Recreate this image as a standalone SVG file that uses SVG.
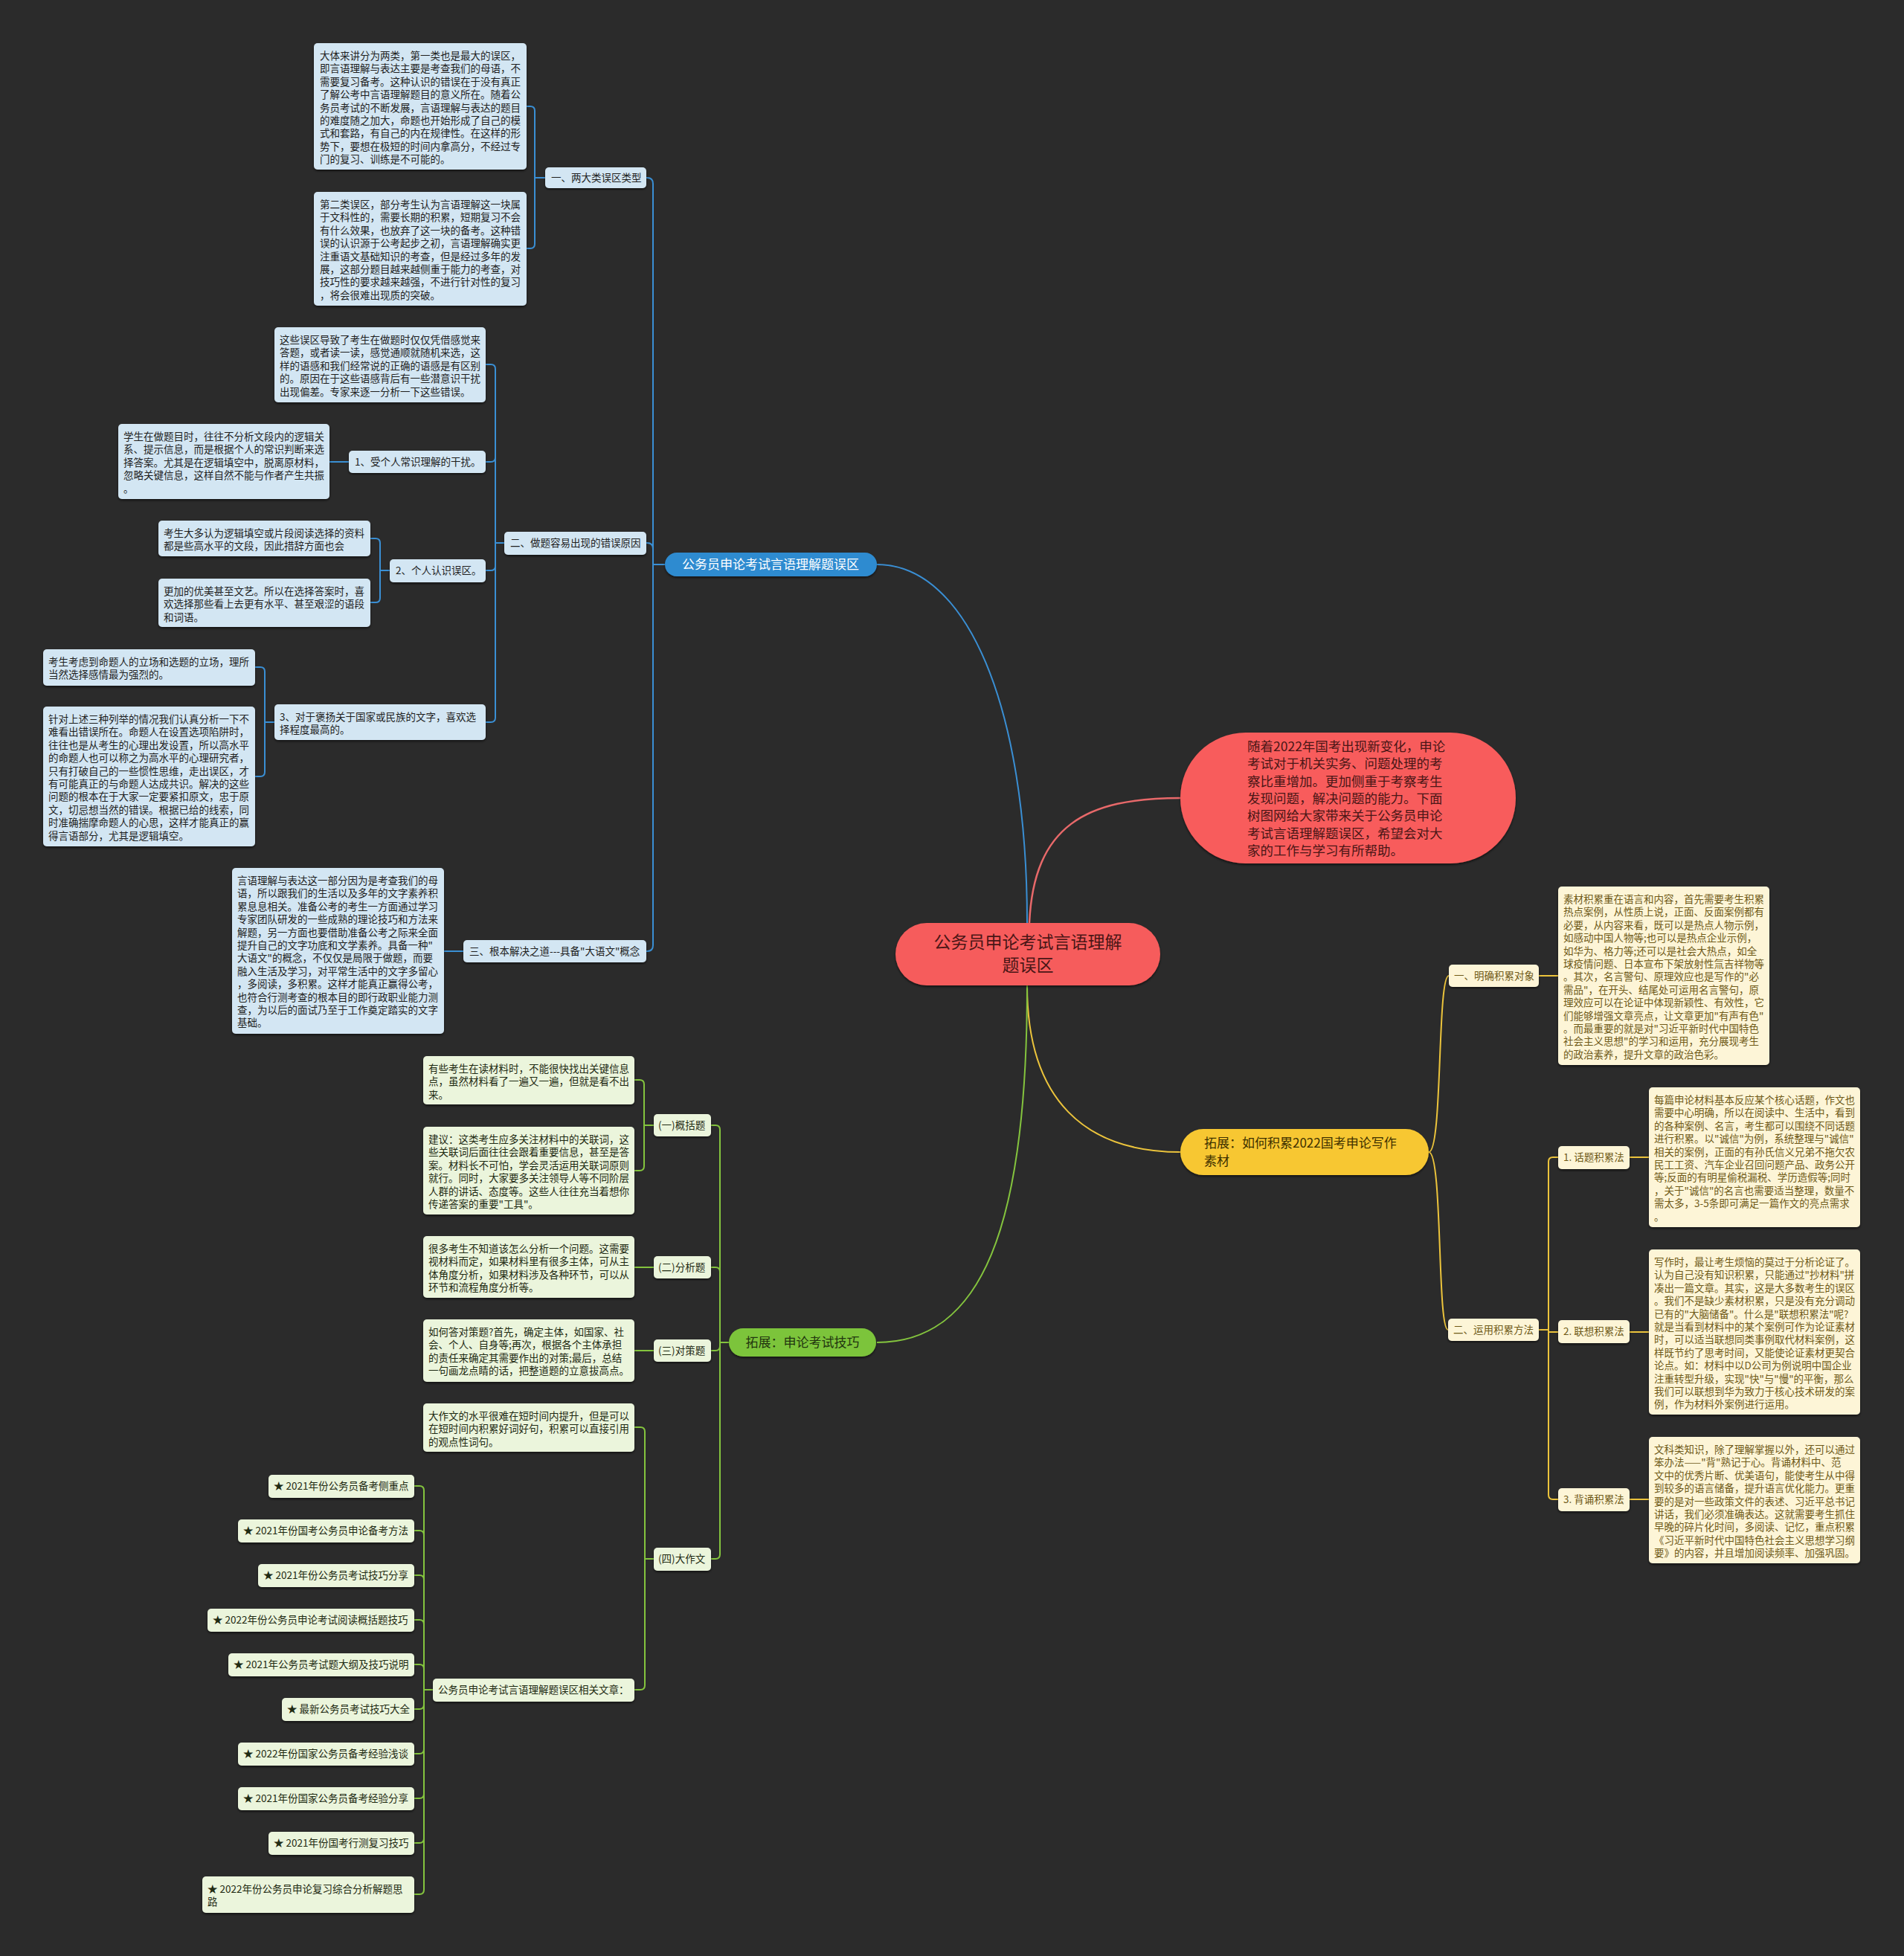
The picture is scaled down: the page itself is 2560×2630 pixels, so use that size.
<svg xmlns="http://www.w3.org/2000/svg" width="2560" height="2630" viewBox="0 0 2560 2630">
<defs>
<filter id="sh" x="-5%" y="-5%" width="110%" height="115%"><feDropShadow dx="0" dy="2" stdDeviation="1.5" flood-color="#000" flood-opacity="0.55"/></filter>
<style>
text{font-family:"Noto Sans CJK SC","Noto Sans",sans-serif;font-size:13.5px}
.bb{fill:#d3e6f3;filter:url(#sh)}
.yb{fill:#fdf5d7;filter:url(#sh)}
.gb{fill:#ebf5dc;filter:url(#sh)}
.bt{fill:#1e1e1e}
.yt{fill:#6f5a18}
.gt{fill:#1e2a12}
.cb{fill:none;stroke:#3a8fd4;stroke-width:2}
.cy{fill:none;stroke:#ecc43c;stroke-width:2}
.cg{fill:none;stroke:#84c43e;stroke-width:2}
.cp{fill:none;stroke:#e8696a;stroke-width:2.5}
.main{font-size:17px}
</style>
</defs>
<rect width="2560" height="2630" fill="#2b2b2b"/>

<g id="connectors">
<!-- root to main branches -->
<path class="cb" stroke-width="2.5" d="M1381 1241 C1381 950 1300 759 1179 759"/>
<path class="cp" d="M1384 1241 C1390 1110 1460 1073 1587 1073"/>
<path class="cy" stroke-width="2.5" d="M1381 1325 C1381 1480 1460 1549 1587 1549"/>
<path class="cg" stroke-width="2.5" d="M1381 1325 C1381 1650 1320 1805 1179 1805"/>
<!-- blue main -> children -->
<path class="cb" d="M894 759 H878 V247 Q878 239 870 239 H869"/>
<path class="cb" d="M894 759 H878 V738 Q878 730 870 730 H869"/>
<path class="cb" d="M894 759 H878 V1271 Q878 1279 870 1279 H869"/>
<!-- 一 -->
<path class="cb" d="M733 239 H719 V149 Q719 143 713 143 H708"/>
<path class="cb" d="M733 239 H719 V328 Q719 334 713 334 H708"/>
<!-- 二 -->
<path class="cb" d="M678 730 H666 V496 Q666 490 660 490 H653"/>
<path class="cb" d="M678 730 H666 V615 Q666 621 660 621 H653"/>
<path class="cb" d="M678 730 H666 V761 Q666 767 660 767 H653"/>
<path class="cb" d="M678 730 H666 V965 Q666 971 660 971 H653"/>
<path class="cb" d="M469 621 H443"/>
<path class="cb" d="M524 767 H511 V730 Q511 724 505 724 H498"/>
<path class="cb" d="M524 767 H511 V804 Q511 810 505 810 H498"/>
<path class="cb" d="M369 971 H356 V903 Q356 897 350 897 H343"/>
<path class="cb" d="M369 971 H356 V1038 Q356 1044 350 1044 H343"/>
<path class="cb" d="M623 1279 H597"/>
<!-- yellow -->
<path class="cy" d="M1921 1549 C1940 1549 1932 1312 1948 1312"/>
<path class="cy" d="M1921 1549 C1940 1549 1932 1788 1947 1788"/>
<path class="cy" d="M2069 1312 H2095"/>
<path class="cy" d="M2069 1788 H2082 V1562 Q2082 1556 2088 1556 H2095"/>
<path class="cy" d="M2069 1788 H2082 V1791 H2095"/>
<path class="cy" d="M2069 1788 H2082 V2010 Q2082 2016 2088 2016 H2095"/>
<path class="cy" d="M2191 1556 H2217"/>
<path class="cy" d="M2191 1791 H2217"/>
<path class="cy" d="M2191 2016 H2217"/>
<!-- green -->
<path class="cg" d="M980 1805 H968 V1519 Q968 1513 962 1513 H956"/>
<path class="cg" d="M980 1805 H968 V1710 Q968 1704 962 1704 H956"/>
<path class="cg" d="M980 1805 H968 V1810 Q968 1816 962 1816 H956"/>
<path class="cg" d="M980 1805 H968 V2090 Q968 2096 962 2096 H956"/>
<path class="cg" d="M879 1513 H866 V1458 Q866 1452 860 1452 H853"/>
<path class="cg" d="M879 1513 H866 V1568 Q866 1574 860 1574 H853"/>
<path class="cg" d="M879 1704 H853"/>
<path class="cg" d="M879 1816 H853"/>
<path class="cg" d="M879 2096 H867 V1925 Q867 1919 861 1919 H853"/>
<path class="cg" d="M879 2096 H867 V2266 Q867 2272 861 2272 H853"/>
<path class="cg" d="M582 2272 H570 V2004 Q570 1998 564 1998 H557"/>
<path class="cg" d="M582 2272 H570 V2064 Q570 2058 564 2058 H557"/>
<path class="cg" d="M582 2272 H570 V2124 Q570 2118 564 2118 H557"/>
<path class="cg" d="M582 2272 H570 V2184 Q570 2178 564 2178 H557"/>
<path class="cg" d="M582 2272 H570 V2244 Q570 2238 564 2238 H557"/>
<path class="cg" d="M582 2272 H570 V2292 Q570 2298 564 2298 H557"/>
<path class="cg" d="M582 2272 H570 V2352 Q570 2358 564 2358 H557"/>
<path class="cg" d="M582 2272 H570 V2412 Q570 2418 564 2418 H557"/>
<path class="cg" d="M582 2272 H570 V2472 Q570 2478 564 2478 H557"/>
<path class="cg" d="M582 2272 H570 V2541 Q570 2547 564 2547 H557"/>
</g>

<!-- root -->
<g id="root">
<rect x="1204" y="1241" width="356" height="84" rx="42" fill="#f65c5c" filter="url(#sh)"/>
<text x="1382" y="1275" text-anchor="middle" style="font-size:23px" fill="#4a1616">公务员申论考试言语理解</text>
<text x="1382" y="1306" text-anchor="middle" style="font-size:23px" fill="#4a1616">题误区</text>
</g>

<g id="intro">
<rect x="1587" y="985" width="451" height="176" rx="88" fill="#f85c5c" filter="url(#sh)"/>
<text style="font-size:17.5px" fill="#4a1616"><tspan x="1677" y="1010">随着2022年国考出现新变化，申论</tspan><tspan x="1677" dy="23.3">考试对于机关实务、问题处理的考</tspan><tspan x="1677" dy="23.3">察比重增加。更加侧重于考察考生</tspan><tspan x="1677" dy="23.3">发现问题，解决问题的能力。下面</tspan><tspan x="1677" dy="23.3">树图网给大家带来关于公务员申论</tspan><tspan x="1677" dy="23.3">考试言语理解题误区，希望会对大</tspan><tspan x="1677" dy="23.3">家的工作与学习有所帮助。</tspan></text>
</g>

<!-- BLUE BRANCH -->
<g id="blue-main">
<rect x="894" y="743" width="285" height="32" rx="16" fill="#2f8bd0" filter="url(#sh)"/>
<text x="1036" y="765" text-anchor="middle" class="main" fill="#ffffff">公务员申论考试言语理解题误区</text>
</g>
<g id="b-1">
<rect class="bb" x="733" y="225" width="136" height="28" rx="5"/>
<text class="bt" x="741" y="244">一、两大类误区类型</text>
</g>
<g id="b-1a">
<rect class="bb" x="422" y="58" width="286" height="170" rx="5"/>
<text class="bt"><tspan x="430" y="80">大体来讲分为两类，第一类也是最大的误区，</tspan><tspan x="430" dy="17.4">即言语理解与表达主要是考查我们的母语，不</tspan><tspan x="430" dy="17.4">需要复习备考。这种认识的错误在于没有真正</tspan><tspan x="430" dy="17.4">了解公考中言语理解题目的意义所在。随着公</tspan><tspan x="430" dy="17.4">务员考试的不断发展，言语理解与表达的题目</tspan><tspan x="430" dy="17.4">的难度随之加大，命题也开始形成了自己的模</tspan><tspan x="430" dy="17.4">式和套路，有自己的内在规律性。在这样的形</tspan><tspan x="430" dy="17.4">势下，要想在极短的时间内拿高分，不经过专</tspan><tspan x="430" dy="17.4">门的复习、训练是不可能的。</tspan></text>
</g>
<g id="b-1b">
<rect class="bb" x="422" y="258" width="286" height="153" rx="5"/>
<text class="bt"><tspan x="430" y="280">第二类误区，部分考生认为言语理解这一块属</tspan><tspan x="430" dy="17.4">于文科性的，需要长期的积累，短期复习不会</tspan><tspan x="430" dy="17.4">有什么效果，也放弃了这一块的备考。这种错</tspan><tspan x="430" dy="17.4">误的认识源于公考起步之初，言语理解确实更</tspan><tspan x="430" dy="17.4">注重语文基础知识的考查，但是经过多年的发</tspan><tspan x="430" dy="17.4">展，这部分题目越来越侧重于能力的考查，对</tspan><tspan x="430" dy="17.4">技巧性的要求越来越强，不进行针对性的复习</tspan><tspan x="430" dy="17.4">，将会很难出现质的突破。</tspan></text>
</g>
<g id="b-2">
<rect class="bb" x="678" y="715" width="191" height="31" rx="5"/>
<text class="bt" x="686" y="735">二、做题容易出现的错误原因</text>
</g>
<g id="b-2a">
<rect class="bb" x="369" y="440" width="284" height="101" rx="5"/>
<text class="bt"><tspan x="376" y="462">这些误区导致了考生在做题时仅仅凭借感觉来</tspan><tspan x="376" dy="17.4">答题，或者读一读，感觉通顺就随机来选，这</tspan><tspan x="376" dy="17.4">样的语感和我们经常说的正确的语感是有区别</tspan><tspan x="376" dy="17.4">的。原因在于这些语感背后有一些潜意识干扰</tspan><tspan x="376" dy="17.4">出现偏差。专家来逐一分析一下这些错误。</tspan></text>
</g>
<g id="b-2b">
<rect class="bb" x="469" y="606" width="184" height="30" rx="5"/>
<text class="bt" x="477" y="626">1、受个人常识理解的干扰。</text>
</g>
<g id="b-2b1">
<rect class="bb" x="159" y="570" width="284" height="101" rx="5"/>
<text class="bt"><tspan x="166" y="592">学生在做题目时，往往不分析文段内的逻辑关</tspan><tspan x="166" dy="17.4">系、提示信息，而是根据个人的常识判断来选</tspan><tspan x="166" dy="17.4">择答案。尤其是在逻辑填空中，脱离原材料，</tspan><tspan x="166" dy="17.4">忽略关键信息，这样自然不能与作者产生共振</tspan><tspan x="166" dy="17.4">。</tspan></text>
</g>
<g id="b-2c">
<rect class="bb" x="524" y="752" width="129" height="31" rx="5"/>
<text class="bt" x="532" y="772">2、个人认识误区。</text>
</g>
<g id="b-2c1">
<rect class="bb" x="213" y="700" width="285" height="48" rx="5"/>
<text class="bt"><tspan x="220" y="722">考生大多认为逻辑填空或片段阅读选择的资料</tspan><tspan x="220" dy="17.4">都是些高水平的文段，因此措辞方面也会</tspan></text>
</g>
<g id="b-2c2">
<rect class="bb" x="213" y="778" width="285" height="65" rx="5"/>
<text class="bt"><tspan x="220" y="800">更加的优美甚至文艺。所以在选择答案时，喜</tspan><tspan x="220" dy="17.4">欢选择那些看上去更有水平、甚至艰涩的语段</tspan><tspan x="220" dy="17.4">和词语。</tspan></text>
</g>
<g id="b-2d">
<rect class="bb" x="369" y="947" width="284" height="48" rx="5"/>
<text class="bt"><tspan x="376" y="969">3、对于褒扬关于国家或民族的文字，喜欢选</tspan><tspan x="376" dy="17.4">择程度最高的。</tspan></text>
</g>
<g id="b-2d1">
<rect class="bb" x="58" y="873" width="285" height="49" rx="5"/>
<text class="bt"><tspan x="65" y="895">考生考虑到命题人的立场和选题的立场，理所</tspan><tspan x="65" dy="17.4">当然选择感情最为强烈的。</tspan></text>
</g>
<g id="b-2d2">
<rect class="bb" x="58" y="950" width="285" height="188" rx="5"/>
<text class="bt"><tspan x="65" y="972">针对上述三种列举的情况我们认真分析一下不</tspan><tspan x="65" dy="17.4">难看出错误所在。命题人在设置选项陷阱时，</tspan><tspan x="65" dy="17.4">往往也是从考生的心理出发设置，所以高水平</tspan><tspan x="65" dy="17.4">的命题人也可以称之为高水平的心理研究者，</tspan><tspan x="65" dy="17.4">只有打破自己的一些惯性思维，走出误区，才</tspan><tspan x="65" dy="17.4">有可能真正的与命题人达成共识。解决的这些</tspan><tspan x="65" dy="17.4">问题的根本在于大家一定要紧扣原文，忠于原</tspan><tspan x="65" dy="17.4">文，切忌想当然的错误。根据已给的线索，同</tspan><tspan x="65" dy="17.4">时准确揣摩命题人的心思，这样才能真正的赢</tspan><tspan x="65" dy="17.4">得言语部分，尤其是逻辑填空。</tspan></text>
</g>
<g id="b-3">
<rect class="bb" x="623" y="1264" width="246" height="30" rx="5"/>
<text class="bt" x="631" y="1284">三、根本解决之道---具备"大语文"概念</text>
</g>
<g id="b-3a">
<rect class="bb" x="312" y="1167" width="285" height="223" rx="5"/>
<text class="bt"><tspan x="319" y="1189">言语理解与表达这一部分因为是考查我们的母</tspan><tspan x="319" dy="17.4">语，所以跟我们的生活以及多年的文字素养积</tspan><tspan x="319" dy="17.4">累息息相关。准备公考的考生一方面通过学习</tspan><tspan x="319" dy="17.4">专家团队研发的一些成熟的理论技巧和方法来</tspan><tspan x="319" dy="17.4">解题，另一方面也要借助准备公考之际来全面</tspan><tspan x="319" dy="17.4">提升自己的文字功底和文学素养。具备一种"</tspan><tspan x="319" dy="17.4">大语文"的概念，不仅仅是局限于做题，而要</tspan><tspan x="319" dy="17.4">融入生活及学习，对平常生活中的文字多留心</tspan><tspan x="319" dy="17.4">，多阅读，多积累。这样才能真正赢得公考，</tspan><tspan x="319" dy="17.4">也符合行测考查的根本目的即行政职业能力测</tspan><tspan x="319" dy="17.4">查，为以后的面试乃至于工作奠定踏实的文字</tspan><tspan x="319" dy="17.4">基础。</tspan></text>
</g>

<!-- YELLOW BRANCH -->
<g id="yellow-main">
<rect x="1587" y="1518" width="334" height="62" rx="31" fill="#f7c731" filter="url(#sh)"/>
<text class="main" fill="#3d3000"><tspan x="1619" y="1543">拓展：如何积累2022国考申论写作</tspan><tspan x="1619" dy="24">素材</tspan></text>
</g>
<g id="y-1">
<rect class="yb" x="1948" y="1297" width="121" height="30" rx="5"/>
<text class="yt" x="1955" y="1317">一、明确积累对象</text>
</g>
<g id="y-1a">
<rect class="yb" x="2095" y="1192" width="284" height="240" rx="5"/>
<text class="yt"><tspan x="2102" y="1214">素材积累重在语言和内容，首先需要考生积累</tspan><tspan x="2102" dy="17.4">热点案例，从性质上说，正面、反面案例都有</tspan><tspan x="2102" dy="17.4">必要，从内容来看，既可以是热点人物示例，</tspan><tspan x="2102" dy="17.4">如感动中国人物等;也可以是热点企业示例，</tspan><tspan x="2102" dy="17.4">如华为、格力等;还可以是社会大热点，如全</tspan><tspan x="2102" dy="17.4">球疫情问题、日本宣布下架放射性氚吉祥物等</tspan><tspan x="2102" dy="17.4">。其次，名言警句、原理效应也是写作的"必</tspan><tspan x="2102" dy="17.4">需品"，在开头、结尾处可运用名言警句，原</tspan><tspan x="2102" dy="17.4">理效应可以在论证中体现新颖性、有效性，它</tspan><tspan x="2102" dy="17.4">们能够增强文章亮点，让文章更加"有声有色"</tspan><tspan x="2102" dy="17.4">。而最重要的就是对"习近平新时代中国特色</tspan><tspan x="2102" dy="17.4">社会主义思想"的学习和运用，充分展现考生</tspan><tspan x="2102" dy="17.4">的政治素养，提升文章的政治色彩。</tspan></text>
</g>
<g id="y-2">
<rect class="yb" x="1947" y="1773" width="122" height="30" rx="5"/>
<text class="yt" x="1954" y="1793">二、运用积累方法</text>
</g>
<g id="y-2a">
<rect class="yb" x="2095" y="1541" width="96" height="31" rx="5"/>
<text class="yt" x="2102" y="1561">1. 话题积累法</text>
</g>
<g id="y-2a1">
<rect class="yb" x="2217" y="1462" width="284" height="188" rx="5"/>
<text class="yt"><tspan x="2224" y="1484">每篇申论材料基本反应某个核心话题，作文也</tspan><tspan x="2224" dy="17.4">需要中心明确，所以在阅读中、生活中，看到</tspan><tspan x="2224" dy="17.4">的各种案例、名言，考生都可以围绕不同话题</tspan><tspan x="2224" dy="17.4">进行积累。以"诚信"为例，系统整理与"诚信"</tspan><tspan x="2224" dy="17.4">相关的案例，正面的有孙氏信义兄弟不拖欠农</tspan><tspan x="2224" dy="17.4">民工工资、汽车企业召回问题产品、政务公开</tspan><tspan x="2224" dy="17.4">等;反面的有明星偷税漏税、学历造假等;同时</tspan><tspan x="2224" dy="17.4">，关于"诚信"的名言也需要适当整理，数量不</tspan><tspan x="2224" dy="17.4">需太多，3-5条即可满足一篇作文的亮点需求</tspan><tspan x="2224" dy="17.4">。</tspan></text>
</g>
<g id="y-2b">
<rect class="yb" x="2095" y="1775" width="96" height="31" rx="5"/>
<text class="yt" x="2102" y="1795">2. 联想积累法</text>
</g>
<g id="y-2b1">
<rect class="yb" x="2217" y="1680" width="284" height="222" rx="5"/>
<text class="yt"><tspan x="2224" y="1702">写作时，最让考生烦恼的莫过于分析论证了。</tspan><tspan x="2224" dy="17.4">认为自己没有知识积累，只能通过"抄材料"拼</tspan><tspan x="2224" dy="17.4">凑出一篇文章。其实，这是大多数考生的误区</tspan><tspan x="2224" dy="17.4">。我们不是缺少素材积累，只是没有充分调动</tspan><tspan x="2224" dy="17.4">已有的"大脑储备"。什么是"联想积累法"呢?</tspan><tspan x="2224" dy="17.4">就是当看到材料中的某个案例可作为论证素材</tspan><tspan x="2224" dy="17.4">时，可以适当联想同类事例取代材料案例，这</tspan><tspan x="2224" dy="17.4">样既节约了思考时间，又能使论证素材更契合</tspan><tspan x="2224" dy="17.4">论点。如：材料中以D公司为例说明中国企业</tspan><tspan x="2224" dy="17.4">注重转型升级，实现"快"与"慢"的平衡，那么</tspan><tspan x="2224" dy="17.4">我们可以联想到华为致力于核心技术研发的案</tspan><tspan x="2224" dy="17.4">例，作为材料外案例进行运用。</tspan></text>
</g>
<g id="y-2c">
<rect class="yb" x="2095" y="2001" width="96" height="31" rx="5"/>
<text class="yt" x="2102" y="2021">3. 背诵积累法</text>
</g>
<g id="y-2c1">
<rect class="yb" x="2217" y="1932" width="284" height="170" rx="5"/>
<text class="yt"><tspan x="2224" y="1954">文科类知识，除了理解掌握以外，还可以通过</tspan><tspan x="2224" dy="17.4">笨办法——"背"熟记于心。背诵材料中、范</tspan><tspan x="2224" dy="17.4">文中的优秀片断、优美语句，能使考生从中得</tspan><tspan x="2224" dy="17.4">到较多的语言储备，提升语言优化能力。更重</tspan><tspan x="2224" dy="17.4">要的是对一些政策文件的表述、习近平总书记</tspan><tspan x="2224" dy="17.4">讲话，我们必须准确表达。这就需要考生抓住</tspan><tspan x="2224" dy="17.4">早晚的碎片化时间，多阅读、记忆，重点积累</tspan><tspan x="2224" dy="17.4">《习近平新时代中国特色社会主义思想学习纲</tspan><tspan x="2224" dy="17.4">要》的内容，并且增加阅读频率、加强巩固。</tspan></text>
</g>

<!-- GREEN BRANCH -->
<g id="green-main">
<rect x="980" y="1786" width="198" height="38" rx="19" fill="#7cc43a" filter="url(#sh)"/>
<text x="1079" y="1811" text-anchor="middle" class="main" fill="#22350f">拓展：申论考试技巧</text>
</g>
<g id="g-1">
<rect class="gb" x="879" y="1498" width="77" height="30" rx="5"/>
<text class="gt" x="885" y="1518">(一)概括题</text>
</g>
<g id="g-1a">
<rect class="gb" x="569" y="1420" width="284" height="65" rx="5"/>
<text class="gt"><tspan x="576" y="1442">有些考生在读材料时，不能很快找出关键信息</tspan><tspan x="576" dy="17.4">点，虽然材料看了一遍又一遍，但就是看不出</tspan><tspan x="576" dy="17.4">来。</tspan></text>
</g>
<g id="g-1b">
<rect class="gb" x="569" y="1515" width="284" height="118" rx="5"/>
<text class="gt"><tspan x="576" y="1537">建议：这类考生应多关注材料中的关联词，这</tspan><tspan x="576" dy="17.4">些关联词后面往往会跟着重要信息，甚至是答</tspan><tspan x="576" dy="17.4">案。材料长不可怕，学会灵活运用关联词原则</tspan><tspan x="576" dy="17.4">就行。同时，大家要多关注领导人等不同阶层</tspan><tspan x="576" dy="17.4">人群的讲话、态度等。这些人往往充当着想你</tspan><tspan x="576" dy="17.4">传递答案的重要"工具"。</tspan></text>
</g>
<g id="g-2">
<rect class="gb" x="879" y="1689" width="77" height="30" rx="5"/>
<text class="gt" x="885" y="1709">(二)分析题</text>
</g>
<g id="g-2a">
<rect class="gb" x="569" y="1662" width="284" height="83" rx="5"/>
<text class="gt"><tspan x="576" y="1684">很多考生不知道该怎么分析一个问题。这需要</tspan><tspan x="576" dy="17.4">视材料而定，如果材料里有很多主体，可从主</tspan><tspan x="576" dy="17.4">体角度分析，如果材料涉及各种环节，可以从</tspan><tspan x="576" dy="17.4">环节和流程角度分析等。</tspan></text>
</g>
<g id="g-3">
<rect class="gb" x="879" y="1801" width="77" height="30" rx="5"/>
<text class="gt" x="885" y="1821">(三)对策题</text>
</g>
<g id="g-3a">
<rect class="gb" x="569" y="1774" width="284" height="84" rx="5"/>
<text class="gt"><tspan x="576" y="1796">如何答对策题?首先，确定主体，如国家、社</tspan><tspan x="576" dy="17.4">会、个人、自身等;再次，根据各个主体承担</tspan><tspan x="576" dy="17.4">的责任来确定其需要作出的对策;最后，总结</tspan><tspan x="576" dy="17.4">一句画龙点睛的话，把整道题的立意拔高点。</tspan></text>
</g>
<g id="g-4">
<rect class="gb" x="879" y="2081" width="77" height="31" rx="5"/>
<text class="gt" x="885" y="2101">(四)大作文</text>
</g>
<g id="g-4a">
<rect class="gb" x="569" y="1887" width="284" height="65" rx="5"/>
<text class="gt"><tspan x="576" y="1909">大作文的水平很难在短时间内提升，但是可以</tspan><tspan x="576" dy="17.4">在短时间内积累好词好句，积累可以直接引用</tspan><tspan x="576" dy="17.4">的观点性词句。</tspan></text>
</g>
<g id="g-4b">
<rect class="gb" x="582" y="2257" width="271" height="31" rx="5"/>
<text class="gt" x="589" y="2277">公务员申论考试言语理解题误区相关文章：</text>
</g>
<g id="s-1"><rect class="gb" x="361" y="1983" width="196" height="31" rx="5"/><text class="gt" x="368" y="2003">★ 2021年份公务员备考侧重点</text></g>
<g id="s-2"><rect class="gb" x="320" y="2043" width="237" height="31" rx="5"/><text class="gt" x="327" y="2063">★ 2021年份国考公务员申论备考方法</text></g>
<g id="s-3"><rect class="gb" x="347" y="2103" width="210" height="31" rx="5"/><text class="gt" x="354" y="2123">★ 2021年份公务员考试技巧分享</text></g>
<g id="s-4"><rect class="gb" x="279" y="2163" width="278" height="31" rx="5"/><text class="gt" x="286" y="2183">★ 2022年份公务员申论考试阅读概括题技巧</text></g>
<g id="s-5"><rect class="gb" x="307" y="2223" width="250" height="31" rx="5"/><text class="gt" x="314" y="2243">★ 2021年公务员考试题大纲及技巧说明</text></g>
<g id="s-6"><rect class="gb" x="379" y="2283" width="178" height="31" rx="5"/><text class="gt" x="386" y="2303">★ 最新公务员考试技巧大全</text></g>
<g id="s-7"><rect class="gb" x="320" y="2343" width="237" height="31" rx="5"/><text class="gt" x="327" y="2363">★ 2022年份国家公务员备考经验浅谈</text></g>
<g id="s-8"><rect class="gb" x="320" y="2403" width="237" height="31" rx="5"/><text class="gt" x="327" y="2423">★ 2021年份国家公务员备考经验分享</text></g>
<g id="s-9"><rect class="gb" x="361" y="2463" width="196" height="31" rx="5"/><text class="gt" x="368" y="2483">★ 2021年份国考行测复习技巧</text></g>
<g id="s-10"><rect class="gb" x="272" y="2523" width="285" height="49" rx="5"/><text class="gt"><tspan x="279" y="2545">★ 2022年份公务员申论复习综合分析解题思</tspan><tspan x="279" dy="17.4">路</tspan></text></g>
</svg>
